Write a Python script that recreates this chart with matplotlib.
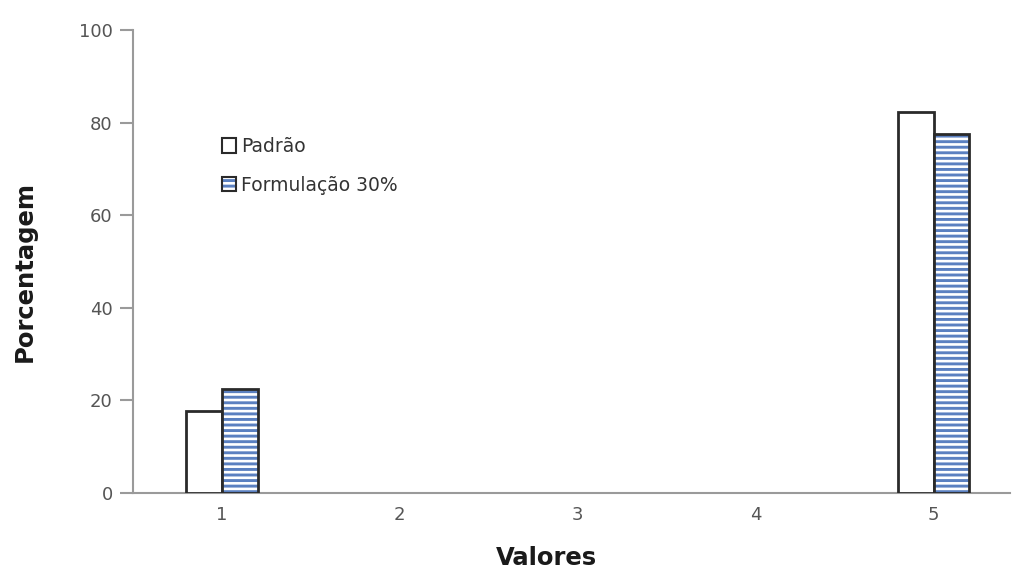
import matplotlib
matplotlib.use("Agg")
import matplotlib.pyplot as plt
import numpy as np
from matplotlib.patches import Patch
from matplotlib.legend_handler import HandlerTuple

categories = [1, 2, 3, 4, 5]
padrao = [17.7, 0, 0, 0, 82.3]
formulacao = [22.4, 0, 0, 0, 77.6]
series_names = ["Padrão", "Formulação 30%"]
y_ticks = [0, 20, 40, 60, 80, 100]

HATCH_BLUE = "#5b80c0"
EDGE = "#2a2a2a"
AXIS_GREY = "#9a9a9a"

plt.rcParams["hatch.linewidth"] = 2.1

W, H = 1013, 572
fig = plt.figure(figsize=(W / 100, H / 100), dpi=100)
ax = fig.add_axes([133 / W, 1 - 493 / H, (1010 - 133) / W, (493 - 30) / H])

x = np.array(categories, dtype=float)
w = 0.2
lw_p = [2.0 if v > 0 else 0 for v in padrao]
lw_f = [2.0 if v > 0 else 0 for v in formulacao]

ax.bar(x - w / 2, padrao, width=w, facecolor="white", edgecolor=EDGE, linewidth=lw_p, zorder=3)
# hatched fill for the second series, then its dark outline on top
ax.bar(x + w / 2, formulacao, width=w, facecolor="white", edgecolor=HATCH_BLUE,
       linewidth=0, hatch="---", zorder=3)
ax.bar(x + w / 2, formulacao, width=w, fill=False, edgecolor=EDGE, linewidth=lw_f, zorder=4)

ax.set_xlim(0.5, 5.43)
ax.set_ylim(0, 100)
ax.set_yticks(y_ticks)
ax.set_xticks(categories)
ax.tick_params(axis="y", direction="out", length=9.5, width=1.5, color=AXIS_GREY,
               labelsize=13, labelcolor="#555555", pad=5)
ax.tick_params(axis="x", length=0, labelsize=13, labelcolor="#555555", pad=9)
for s in ["top", "right"]:
    ax.spines[s].set_visible(False)
for s in ["left", "bottom"]:
    ax.spines[s].set_color(AXIS_GREY)
    ax.spines[s].set_linewidth(1.5)

ax.set_xlabel("Valores", fontsize=17.5, fontweight="bold", color="#1a1a1a")
ax.xaxis.set_label_coords((546.5 - 133) / 877, (493 - 558) / 463)
ax.xaxis.label.set_va("center")
ax.set_ylabel("Porcentagem", fontsize=17.5, fontweight="bold", color="#1a1a1a")
ax.yaxis.set_label_coords((25 - 133) / 877, (493 - 271.5) / 463)
ax.yaxis.label.set_va("center")

h_p = Patch(facecolor="white", edgecolor=EDGE, linewidth=1.5)
h_f = (Patch(facecolor="white", edgecolor=HATCH_BLUE, linewidth=0, hatch="---"),
       Patch(fill=False, edgecolor=EDGE, linewidth=1.5))
ax.legend([h_p, h_f], series_names, handler_map={tuple: HandlerTuple(ndivide=1)},
          loc="upper left", bbox_to_anchor=((222 - 133) / 877, (493 - 137) / 463),
          frameon=False, fontsize=13.5, handlelength=0.75, handleheight=0.8,
          handletextpad=0.25, labelspacing=1.05, borderpad=0, borderaxespad=0,
          labelcolor="#333333")

fig.savefig("out.png", dpi=100)
